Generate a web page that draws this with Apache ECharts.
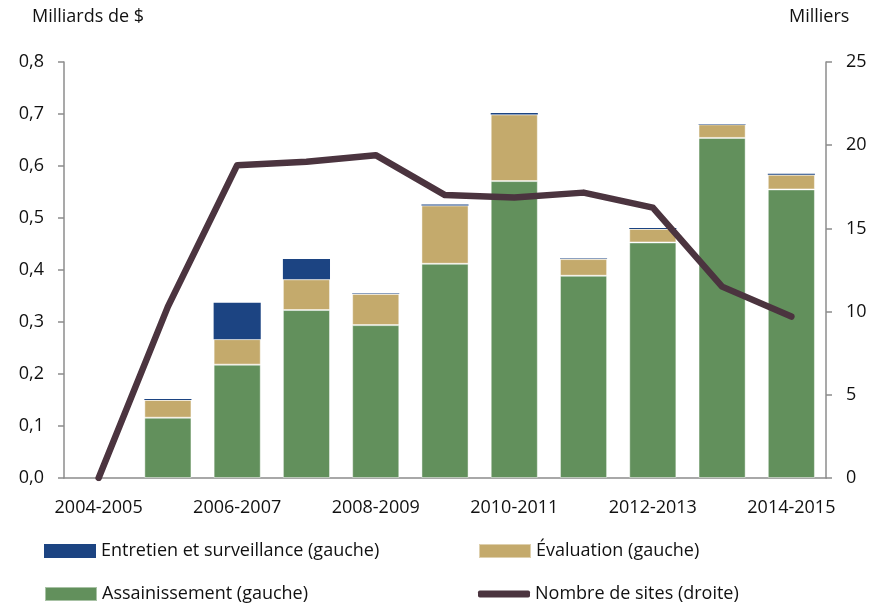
<!DOCTYPE html>
<html>
<head>
<meta charset="utf-8">
<script src="https://cdn.jsdelivr.net/npm/echarts@6/dist/echarts.min.js"></script>
<style>
  html, body { margin: 0; padding: 0; background: #fff; }
  #chart { width: 881px; height: 609px; }
</style>
</head>
<body>
<div id="chart"></div>
<script>
const years = ['2004-2005', '2005-2006', '2006-2007', '2007-2008', '2008-2009', '2009-2010',
  '2010-2011', '2011-2012', '2012-2013', '2013-2014', '2014-2015']
// milliards de $ (gauche)
const assainissement = [null, 0.116, 0.218, 0.323, 0.294, 0.412, 0.571, 0.389, 0.453, 0.654, 0.555]
const evaluation = [null, 0.034, 0.049, 0.059, 0.060, 0.112, 0.128, 0.032, 0.026, 0.026, 0.028]
const entretien = [null, 0.002, 0.070, 0.039, 0.001, 0.002, 0.003, 0.001, 0.002, 0.001, 0.002]
// milliers (droite)
const sites = [0, 10.3, 18.8, 19.0, 19.4, 17.0, 16.85, 17.15, 16.25, 11.5, 9.7]

const leftTicks = { min: 0, max: 0.8, interval: 0.1 }
const rightTicks = { min: 0, max: 25, interval: 5 }

const font = '"Open Sans", "Noto Sans", sans-serif'
const axisGray = '#8c8c8c'

const myChart = echarts.init(document.getElementById('chart'))

function legendItem(name, left, top, h, icon) {
  return {
    left: left, top: top, padding: 0, itemWidth: 52, itemHeight: h, itemGap: 0,
    icon: icon, textStyle: { fontSize: 18, color: '#111', fontFamily: font },
    data: [name]
  }
}

const option = {
  animation: false,
  textStyle: { fontFamily: font },
  grid: { left: 64, right: 55, top: 62, bottom: 131 },
  graphic: [
    { type: 'text', left: 32, top: 8, style: { text: 'Milliards de $', font: '18px ' + font, fill: '#111' } },
    { type: 'text', left: 789, top: 8, style: { text: 'Milliers', font: '18px ' + font, fill: '#111' } }
  ],
  legend: [
    legendItem('Entretien et surveillance (gauche)', 44, 542, 14, 'rect'),
    legendItem('Assainissement (gauche)', 44, 585, 14, 'rect'),
    legendItem('Évaluation (gauche)', 478, 542, 14, 'rect'),
    legendItem('Nombre de sites (droite)', 478, 585, 7, 'roundRect')
  ],
  xAxis: {
    type: 'category',
    data: years,
    axisLine: { lineStyle: { color: axisGray, width: 1.5 } },
    axisTick: { interval: 1, length: 7, lineStyle: { color: axisGray, width: 1.5 } },
    axisLabel: { interval: 1, color: '#111', fontSize: 18, margin: 21, fontFamily: font }
  },
  yAxis: [
    {
      type: 'value', position: 'left', ...leftTicks,
      axisLine: { show: true, lineStyle: { color: axisGray, width: 1.5 } },
      axisTick: { show: true, length: 6, lineStyle: { color: axisGray, width: 1.5 } },
      splitLine: { show: false },
      axisLabel: {
        color: '#111', fontSize: 18, margin: 20, fontFamily: font,
        formatter: v => v.toFixed(1).replace('.', ',')
      }
    },
    {
      type: 'value', position: 'right', ...rightTicks,
      axisLine: { show: true, lineStyle: { color: axisGray, width: 1.5 } },
      axisTick: { show: true, length: 6, lineStyle: { color: axisGray, width: 1.5 } },
      splitLine: { show: false },
      axisLabel: { color: '#111', fontSize: 18, margin: 20, fontFamily: font }
    }
  ],
  series: [
    {
      name: 'Assainissement (gauche)', type: 'bar', stack: 'cout', barWidth: '68%',
      itemStyle: { color: '#62905c', borderColor: 'rgba(255,255,255,0.45)', borderWidth: 1 },
      data: assainissement
    },
    {
      name: 'Évaluation (gauche)', type: 'bar', stack: 'cout',
      itemStyle: { color: '#c4aa6c', borderColor: 'rgba(255,255,255,0.45)', borderWidth: 1 },
      data: evaluation
    },
    {
      name: 'Entretien et surveillance (gauche)', type: 'bar', stack: 'cout',
      itemStyle: { color: '#1c4482' },
      data: entretien
    },
    {
      name: 'Nombre de sites (droite)', type: 'line', yAxisIndex: 1,
      symbol: 'none', z: 5,
      lineStyle: { color: '#4b343f', width: 6.5, cap: 'round', join: 'round' },
      itemStyle: { color: '#4b343f' },
      data: sites
    }
  ]
}
myChart.setOption(option)
</script>
</body>
</html>
